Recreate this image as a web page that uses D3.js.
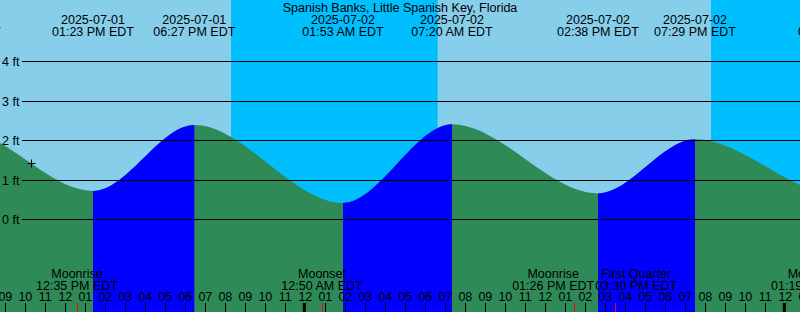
<!DOCTYPE html>
<html>
<head>
<meta charset="utf-8">
<script src="https://cdn.jsdelivr.net/npm/d3@7"></script>
<style>
  body { margin: 0; background: #fff; }
  svg { display: block; font-family: "Liberation Sans", Arial, sans-serif; font-size: 12.5px; }
</style>
</head>
<body>
<div id="vis"><svg></svg></div>
<script>
// station and visible time window (EDT, treated as local time)
const title = "Spanish Banks, Little Spanish Key, Florida";
const windowStart = "2025-07-01 08:44";
const windowEnd = "2025-07-03 00:44";

// tide extremes (first and last are off screen, they only shape the edges)
const tideTimes = ["2025-07-01 00:20", "2025-07-01 06:44", "2025-07-01 13:23", "2025-07-01 18:27",
                   "2025-07-02 01:53", "2025-07-02 07:20", "2025-07-02 14:38", "2025-07-02 19:29",
                   "2025-07-03 02:40", "2025-07-03 08:55"];
const tideHeights = [0.5, 2.27, 0.72, 2.39, 0.42, 2.41, 0.66, 2.03, 0.62, 2.4];

// night spans (sunset -> sunrise)
const nightStarts = ["2025-07-01 20:17", "2025-07-02 20:17"];
const nightEnds = ["2025-07-02 06:37", "2025-07-03 06:37"];

// moon events
const moonNames = ["Moonrise", "Moonset", "Moonrise", "First Quarter", "Moonset"];
const moonTimes = ["2025-07-01 12:35", "2025-07-02 00:50", "2025-07-02 13:26", "2025-07-02 15:30", "2025-07-03 01:19"];

// current time marker
const nowTime = "2025-07-01 10:16";
const nowHeight = 1.41;

const ftTicks = [0, 1, 2, 3, 4];

const w = 800, h = 312;
const parse = d3.timeParse("%Y-%m-%d %H:%M");
const fmtDate = d3.timeFormat("%Y-%m-%d");
const fmtTime = d3.timeFormat("%I:%M %p EDT");
const fmtHour = d3.timeFormat("%I");

const t0 = parse(windowStart), t1 = parse(windowEnd);
const x = d3.scaleTime().domain([t0, t1]).range([0, w]);
const y = d3.scaleLinear().domain([0, 4]).range([219.5, 61.5]);

const tides = tideTimes.map((t, i) => ({ t: parse(t), v: tideHeights[i] }));

const svg = d3.select("#vis").select("svg")
  .attr("width", w)
  .attr("height", h);

// push overlapping two-line labels apart, keeping them centred on their event when free
function spreadLabels(sel, gap) {
  const items = [];
  sel.each(function(d) {
    const spans = d3.select(this).selectAll("tspan").nodes();
    const wdt = d3.max(spans, n => n.getComputedTextLength());
    items.push({ node: this, cx: x(d.t), w: wdt });
  });
  items.sort((a, b) => a.cx - b.cx);
  for (let pass = 0; pass < 10; pass++) {
    for (let i = 0; i < items.length - 1; i++) {
      const a = items[i], b = items[i + 1];
      const overlap = (a.cx + a.w / 2 + gap) - (b.cx - b.w / 2);
      if (overlap > 0) {
        a.cx -= overlap / 2;
        b.cx += overlap / 2;
      }
    }
  }
  items.forEach(it => d3.select(it.node).selectAll("tspan").attr("x", it.cx));
}

// day / night background
svg.append("rect")
  .attr("width", w).attr("height", h)
  .attr("fill", "#87ceeb");

svg.selectAll(".night")
  .data(nightStarts)
  .enter().append("rect")
    .attr("class", "night")
    .attr("x", d => x(parse(d)))
    .attr("y", 0)
    .attr("width", (d, i) => x(parse(nightEnds[i])) - x(parse(d)))
    .attr("height", h)
    .attr("fill", "#00bfff");

// tide area
const area = d3.area()
  .curve(d3.curveMonotoneX)
  .x(d => x(d.t))
  .y0(h)
  .y1(d => y(d.v));

svg.append("path")
  .datum(tides)
  .attr("d", area)
  .attr("fill", "#2e8b57");

// rising stretches (low -> high) in blue
const rising = [];
tides.forEach((d, i) => {
  if (i < tides.length - 1 && tides[i + 1].v > d.v) rising.push([d.t, tides[i + 1].t]);
});

const defs = svg.append("defs");
const clip = defs.append("clipPath").attr("id", "rising-clip");
clip.selectAll("rect")
  .data(rising)
  .enter().append("rect")
    .attr("x", d => x(d[0]))
    .attr("y", 0)
    .attr("width", d => x(d[1]) - x(d[0]))
    .attr("height", h);

svg.append("path")
  .datum(tides)
  .attr("d", area)
  .attr("fill", "#0000ff")
  .attr("clip-path", "url(#rising-clip)");

// height gridlines
const grid = svg.append("g");
ftTicks.forEach(v => {
  const yy = Math.floor(y(v)) + 0.5;
  grid.append("line")
    .attr("x1", 22).attr("x2", w)
    .attr("y1", yy).attr("y2", yy)
    .attr("stroke", "#000")
    .attr("stroke-width", 1);
  grid.append("text")
    .attr("x", 2)
    .attr("y", yy + 4.5)
    .text(v + " ft");
});

// title
svg.append("text")
  .attr("x", w / 2)
  .attr("y", 12)
  .attr("text-anchor", "middle")
  .text(title);

// tide event labels
const tideLabels = svg.selectAll(".tide-label")
  .data(tides)
  .enter().append("text")
    .attr("class", "tide-label")
    .attr("text-anchor", "middle");
tideLabels.append("tspan")
  .attr("x", d => x(d.t)).attr("y", 24)
  .text(d => fmtDate(d.t));
tideLabels.append("tspan")
  .attr("x", d => x(d.t)).attr("y", 36)
  .text(d => fmtTime(d.t));
spreadLabels(tideLabels, 2);

// hour axis
const hours = d3.timeHour.range(d3.timeHour.offset(t0, -1), d3.timeHour.offset(t1, 2));
svg.selectAll(".hour-label")
  .data(hours)
  .enter().append("text")
    .attr("class", "hour-label")
    .attr("x", d => x(d))
    .attr("y", 301)
    .attr("text-anchor", "middle")
    .text(d => fmtHour(d));

svg.selectAll(".hour-tick")
  .data(hours)
  .enter().append("rect")
    .attr("class", "hour-tick")
    .attr("x", d => d.getHours() === 0 ? x(d) - 2.5 : Math.round(x(d)))
    .attr("y", 303)
    .attr("width", d => d.getHours() === 0 ? 3 : 1)
    .attr("height", h - 303)
    .attr("fill", "#000");

// moon events
const moon = moonTimes.map((t, i) => ({ t: parse(t), name: moonNames[i] }));
svg.selectAll(".moon-tick")
  .data(moon)
  .enter().append("rect")
    .attr("class", "moon-tick")
    .attr("x", d => Math.round(x(d.t)))
    .attr("y", 303)
    .attr("width", 1)
    .attr("height", h - 303)
    .attr("fill", "#ff0000");

const moonLabels = svg.selectAll(".moon-label")
  .data(moon)
  .enter().append("text")
    .attr("class", "moon-label")
    .attr("text-anchor", "middle");
moonLabels.append("tspan")
  .attr("x", d => x(d.t)).attr("y", 278)
  .text(d => d.name);
moonLabels.append("tspan")
  .attr("x", d => x(d.t)).attr("y", 290)
  .text(d => fmtTime(d.t));
spreadLabels(moonLabels, 1);

// current time marker
const nx = Math.round(x(parse(nowTime))) + 0.5;
const ny = Math.floor(y(nowHeight)) + 0.5;
svg.append("path")
  .attr("d", `M${nx - 4},${ny}H${nx + 4}M${nx},${ny - 4}V${ny + 4}`)
  .attr("stroke", "#000")
  .attr("stroke-width", 1)
  .attr("fill", "none");
</script>
</body>
</html>
